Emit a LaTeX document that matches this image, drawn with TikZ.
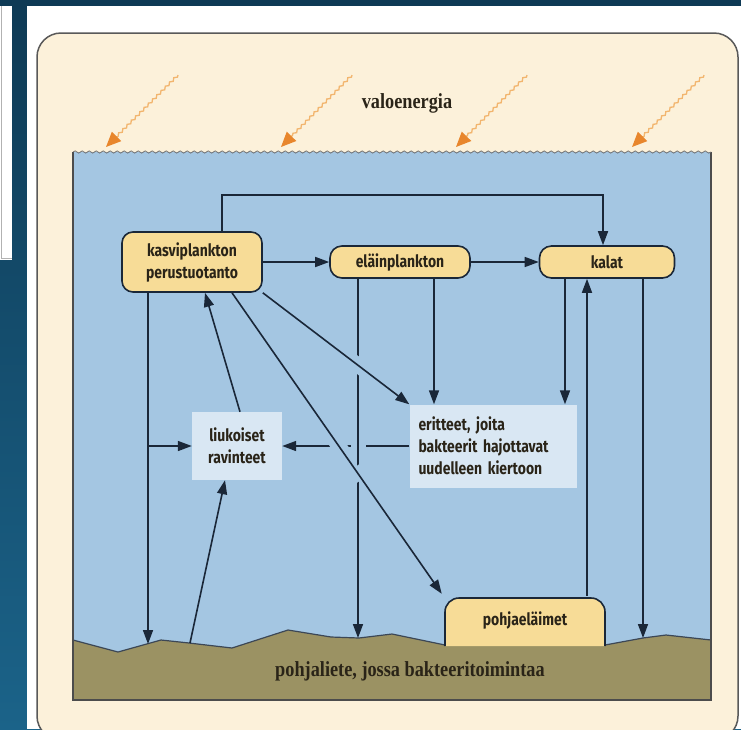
\documentclass[tikz,border=0pt]{standalone}
\usepackage{fontspec}
\setmainfont{Liberation Serif}
\newfontfamily\nodefont[FakeStretch=0.82]{Fira Sans}
\newfontfamily\seriffont[FakeStretch=0.85]{Liberation Serif}
\usetikzlibrary{arrows.meta,decorations.pathmorphing,intersections,calc}
\definecolor{navy}{HTML}{0E3A55}
\definecolor{tealb}{HTML}{1B6389}
\definecolor{cream}{HTML}{FCF1DA}
\definecolor{water}{HTML}{A4C6E2}
\definecolor{sed}{HTML}{9B9263}
\definecolor{nodeyel}{HTML}{F7DC97}
\definecolor{pale}{HTML}{D9E7F3}
\definecolor{ink}{HTML}{1A2738}
\definecolor{txt}{HTML}{2A2418}
\definecolor{sunline}{HTML}{F2B56E}
\definecolor{sunhead}{HTML}{E8862C}
\tikzset{
  arr/.style={draw=ink, line width=1.6pt, -{Triangle[length=14pt,width=10pt]}},
  halo/.style={draw=water, line width=15pt},
  nbox/.style={draw=ink, line width=1.6pt, fill=nodeyel, rounded corners=11pt,
    font=\nodefont\bfseries\fontsize{17}{22}\selectfont, text=txt, align=center, inner sep=0pt},
  pbox/.style={fill=pale, font=\nodefont\bfseries\fontsize{17}{22}\selectfont, text=txt, inner sep=0pt},
  sun/.style={draw=sunline, line width=1.3pt, decorate,
    decoration={snake, amplitude=1.1pt, segment length=6pt, post length=14pt},
    -{Triangle[length=15pt,width=13pt,color=sunhead]}},
  lbl/.style={font=\seriffont\bfseries\fontsize{21.5}{24}\selectfont, text=txt}
}
\begin{document}
\begin{tikzpicture}[x=1pt,y=-1pt]
\useasboundingbox (0,0) rectangle (741,729);
\clip (0,0) rectangle (741,729);
% page background
\fill[top color=navy, bottom color=tealb] (0,0) rectangle (741,729);
\fill[white] (0,6) rectangle (12,260);
\draw[gray!60, line width=0.8pt] (1.5,6) -- (1.5,258) -- (12,258);
\fill[white] (27,6) rectangle (741,729);
\draw[black!65, line width=1.5pt, fill=cream, rounded corners=24pt] (37,33) rectangle (738,740);
% sun arrows
\draw[sun] (178,75) -- (106,147);
\draw[sun] (352,75) -- (281,147);
\draw[sun] (527,75) -- (456,147);
\draw[sun] (704,75) -- (632,147);
\node[lbl] (valo) at (407,103) {valoenergia};
% water
\fill[water] (73,152) rectangle (711,700);
\fill[sed] (73,640) -- (118,652) -- (161,640) -- (189,643) -- (232,648) -- (288,630) -- (331,637)
  -- (359,638) -- (392,634) -- (445,645) -- (605,645) -- (643,638) -- (666,635) -- (711,640)
  -- (711,700) -- (73,700) -- cycle;
\draw[ink!85, line width=1.2pt] (73,640) -- (118,652) -- (161,640) -- (189,643) -- (232,648) -- (288,630) -- (331,637)
  -- (359,638) -- (392,634) -- (445,645) -- (605,645) -- (643,638) -- (666,635) -- (711,640);
\draw[black!70, line width=1.4pt] (73,152) -- (73,700) -- (711,700) -- (711,152);
\draw[black!55, line width=0.8pt, decorate, decoration={snake, segment length=7pt, amplitude=1.1pt}] (73,152) -- (711,152);
\node[lbl] (sedl) at (410,671) {pohjaliete, jossa bakteeritoimintaa};
% pohjaelaimet shape
\draw[draw=ink, line width=1.6pt, fill=nodeyel, rounded corners=14pt] (445,646) -- (445,598) -- (605,598) -- (605,646);
\node[font=\nodefont\bfseries\fontsize{17}{22}\selectfont, text=txt, minimum width=160pt, minimum height=48pt, inner sep=0pt] (pohja) at (525,620) {pohjaeläimet};
% nodes
\node[nbox, minimum width=140pt, minimum height=60pt] (kasvi) at (192,262) {kasviplankton\\perustuotanto};
\node[nbox, minimum width=140pt, minimum height=32pt, rounded corners=12pt] (elain) at (400,262) {eläinplankton};
\node[nbox, minimum width=135pt, minimum height=32pt, rounded corners=12pt] (kalat) at (607,262) {kalat};
\node[pbox, minimum width=90pt, minimum height=68pt, align=center] (liuk) at (237,446) {liukoiset\\ravinteet};
\node[pbox, minimum width=167pt, minimum height=83pt, text width=149pt, align=left] (erit) at (493,446) {eritteet, joita\\bakteerit hajottavat\\uudelleen kiertoon};
% coordinates
\coordinate (s1) at (148,644);
\coordinate (b1) at (148,446);
\coordinate (s2) at (190,643);
\coordinate (s3) at (358,638);
\coordinate (s4) at (643,638);
\coordinate (d2e) at ([xshift=-3pt,yshift=2pt]pohja.north west);
% simple connectors
\draw[arr] ([xshift=30pt]kasvi.north) -- ++(0,-36) -| ([xshift=-4pt]kalat.north);
\draw[arr] (kasvi.east) -- (elain.west);
\draw[arr] (elain.east) -- (kalat.west);
\draw[arr] (kasvi.south -| s1) -- (s1);
\draw[arr] (b1) -- (liuk.west);
\draw[arr] (s2) -- ([xshift=-12pt]liuk.south);
\draw[arr] ([xshift=3pt]liuk.north) -- ([xshift=13pt]kasvi.south);
\draw[arr] ([xshift=34pt]elain.south) -- ([xshift=34pt]elain.south |- erit.north);
\draw[arr] ([xshift=-42pt]kalat.south) -- ([xshift=-42pt]kalat.south |- erit.north);
\draw[arr] (kalat.south -| s4) -- (s4);
\draw[arr] ([xshift=-20pt]kalat.south |- pohja.north) -- ([xshift=-20pt]kalat.south);
% crossing connectors
\path[name path=H] (erit.west) -- (liuk.east);
\path[name path=V] (elain.south -| s3) -- (s3);
\path[name path=D1] (kasvi.south east) -- (erit.north west);
\path[name path=D2] ([xshift=40pt]kasvi.south) -- (d2e);
\draw[arr] (erit.west) -- (liuk.east);
\path[name intersections={of=V and H, by=x1}];
\draw[halo] ($(x1)+(0,-6)$) -- ($(x1)+(0,6)$);
\draw[arr] (elain.south -| s3) -- (s3);
\path[name intersections={of=D1 and V, by=x2}];
\path[name intersections={of=D2 and V, by=x3}];
\path[name intersections={of=D2 and H, by=x4}];
\draw[halo] ($(x2)!7pt!(kasvi.south east)$) -- ($(x2)!7pt!(erit.north west)$);
\draw[halo] ($(x3)!7pt!([xshift=40pt]kasvi.south)$) -- ($(x3)!7pt!(d2e)$);
\draw[halo] ($(x4)!7pt!([xshift=40pt]kasvi.south)$) -- ($(x4)!7pt!(d2e)$);
\draw[arr] (kasvi.south east) -- (erit.north west);
\draw[arr] ([xshift=40pt]kasvi.south) -- (d2e);
\end{tikzpicture}
\end{document}
